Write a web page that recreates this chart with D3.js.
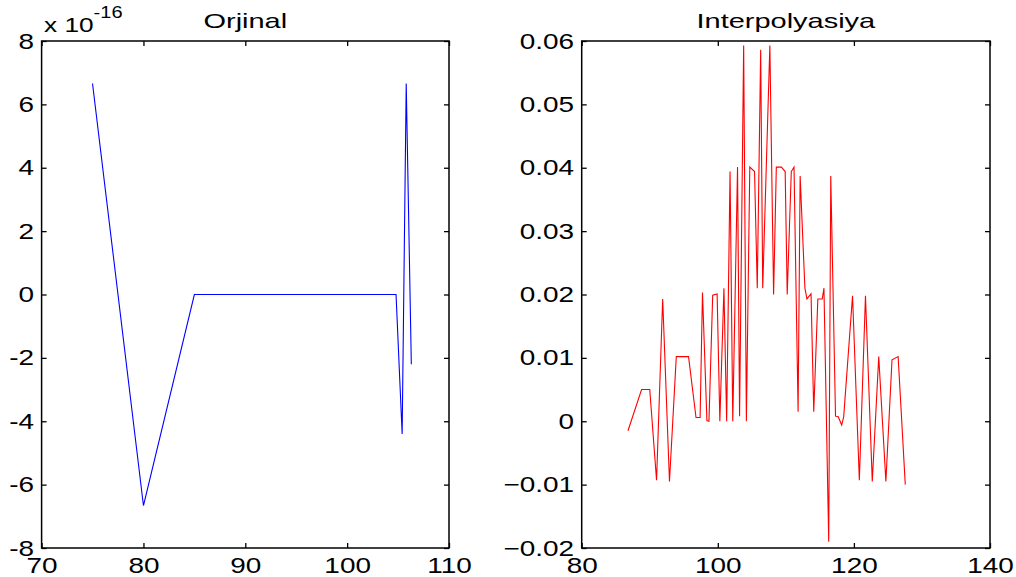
<!DOCTYPE html>
<html>
<head>
<meta charset="utf-8">
<script src="https://cdn.jsdelivr.net/npm/d3@7"></script>
<style>
  body { margin: 0; background: #fff; }
  svg { display: block; }
  text { font-family: "Liberation Sans", Arial, sans-serif; }
</style>
</head>
<body>
<svg id="chart" width="1016" height="577"></svg>
<script>
// Left panel: "Orjinal" (values in units of 1e-16)
const origX = [75, 80, 85, 104.8, 105.4, 105.8, 106.3];
const origY = [6.66, -6.66, 0, 0, -4.4, 6.66, -2.2];
const origXTicks = [70, 80, 90, 100, 110];
const origYTicks = [-8, -6, -4, -2, 0, 2, 4, 6, 8];

// Right panel: "Interpolyasiya"
const interpX = [86.8, 88.8, 90.0, 91.0, 91.9, 92.9, 93.9, 95.7, 96.8, 97.4, 97.75, 98.4, 98.7,
  99.25, 99.9, 100.3, 100.9, 101.3, 101.8, 102.2, 102.9, 103.2, 103.8, 104.2, 104.7, 105.4,
  105.8, 106.3, 106.6, 107.65, 108.2, 108.6, 109.35, 109.9, 110.2, 110.8, 111.2, 111.8, 112.1,
  112.8, 113.1, 113.7, 114.1, 114.7, 115.35, 115.6, 116.3, 116.6, 117.3, 117.7, 118.2, 118.5,
  119.8, 120.8, 121.7, 122.7, 123.65, 124.7, 125.6, 126.5, 127.55];
const interpY = [-0.0015, 0.005, 0.005, -0.0093, 0.0193, -0.0095, 0.0102, 0.0102, 0.0006, 0.0006,
  0.0203, 0.0001, 0.0, 0.0199, 0.0201, 0.0, 0.021, 0.0, 0.0394, 0.0, 0.0401, 0.0008, 0.0593, 0.0,
  0.0401, 0.0394, 0.021, 0.0586, 0.021, 0.0593, 0.020, 0.0401, 0.0401, 0.0394, 0.020, 0.0394,
  0.0401, 0.0015, 0.0387, 0.021, 0.0193, 0.0201, 0.0015, 0.0193, 0.0193, 0.021, -0.019, 0.0387,
  0.0008, 0.0007, -0.0006, 0.0007, 0.0198, -0.0093, 0.0198, -0.0095, 0.0102, -0.0095, 0.0097,
  0.0102, -0.01];
const interpXTicks = [80, 100, 120, 140];
const interpYTicks = [-0.02, -0.01, 0, 0.01, 0.02, 0.03, 0.04, 0.05, 0.06];

const svg = d3.select("#chart");
const plotTop = 41, plotBottom = 548;
const tickLen = 5;
const stretch = 1.27;

function drawPanel(opts) {
    const x = d3.scaleLinear().domain(opts.xDomain).range([opts.left, opts.right]);
    const y = d3.scaleLinear().domain(opts.yDomain).range([plotBottom, plotTop]);
    const g = svg.append("g");

    // inward ticks on all four sides, labels on bottom and left only
    const bx = g.append("g").attr("transform", `translate(0,${plotBottom})`)
        .call(d3.axisBottom(x).tickValues(opts.xTicks).tickSizeInner(-tickLen).tickSizeOuter(0).tickPadding(9));
    const tx = g.append("g").attr("transform", `translate(0,${plotTop})`)
        .call(d3.axisTop(x).tickValues(opts.xTicks).tickSizeInner(-tickLen).tickSizeOuter(0).tickFormat(""));
    const ly = g.append("g").attr("transform", `translate(${opts.left},0)`)
        .call(d3.axisLeft(y).tickValues(opts.yTicks).tickSizeInner(-tickLen).tickSizeOuter(0).tickPadding(6)
            .tickFormat(opts.yFormat));
    const ry = g.append("g").attr("transform", `translate(${opts.right},0)`)
        .call(d3.axisRight(y).tickValues(opts.yTicks).tickSizeInner(-tickLen).tickSizeOuter(0).tickFormat(""));

    [bx, tx, ly, ry].forEach(a => {
        a.select(".domain").remove();
        a.selectAll("line").attr("stroke", "#000").attr("stroke-width", 1.3);
    });
    bx.selectAll("text").attr("font-size", 22).attr("fill", "#000")
        .attr("dy", "0.71em").attr("transform", `scale(${stretch},1)`);
    ly.selectAll("text").attr("font-size", 22).attr("fill", "#000")
        .attr("transform", `scale(${stretch},1)`);

    // box
    g.append("rect")
        .attr("x", opts.left).attr("y", plotTop)
        .attr("width", opts.right - opts.left).attr("height", plotBottom - plotTop)
        .attr("fill", "none").attr("stroke", "#000").attr("stroke-width", 1.5);

    // data line
    const line = d3.line().x(d => x(d[0])).y(d => y(d[1]));
    g.append("path")
        .datum(opts.xs.map((v, i) => [v, opts.ys[i]]))
        .attr("d", line)
        .attr("fill", "none")
        .attr("stroke", opts.color)
        .attr("stroke-width", 1.1);

    // title
    const cx = (opts.left + opts.right) / 2;
    g.append("text")
        .attr("transform", `translate(${cx},28) scale(1.38,1)`)
        .attr("text-anchor", "middle")
        .attr("font-size", 21)
        .attr("fill", "#000")
        .text(opts.title);
    return g;
}

const leftPanel = drawPanel({
    left: 41.6, right: 449,
    xDomain: [70, 110], yDomain: [-8, 8],
    xTicks: origXTicks, yTicks: origYTicks,
    yFormat: d => d,
    xs: origX, ys: origY,
    color: "#0000ff",
    title: "Orjinal"
});

drawPanel({
    left: 581.7, right: 990,
    xDomain: [80, 140], yDomain: [-0.02, 0.06],
    xTicks: interpXTicks, yTicks: interpYTicks,
    yFormat: d => d === 0 ? "0" : d3.format(".2f")(d),
    xs: interpX, ys: interpY,
    color: "#ff0000",
    title: "Interpolyasiya"
});

// exponent label for left panel
const expo = leftPanel.append("text")
    .attr("transform", "translate(44,32) scale(1.25,1)")
    .attr("font-size", 21)
    .attr("fill", "#000");
expo.append("tspan").text("x 10");
expo.append("tspan").attr("font-size", 16).attr("dy", -14).text("-16");
</script>
</body>
</html>
